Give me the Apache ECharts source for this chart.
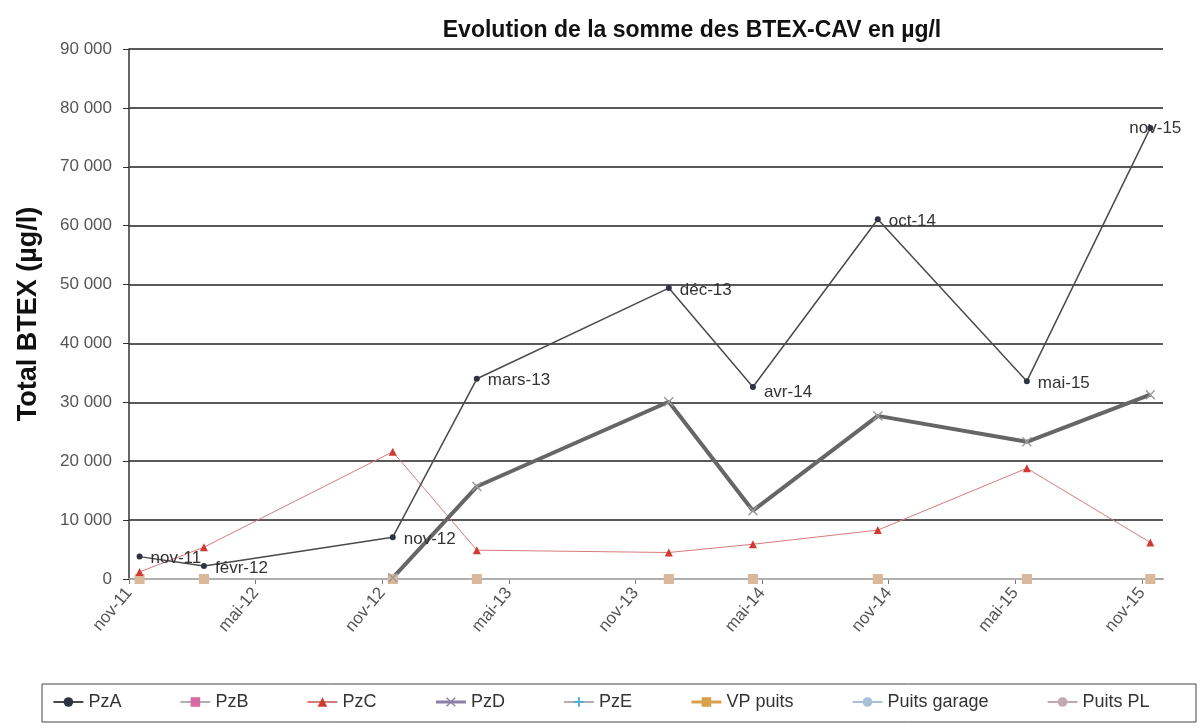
<!DOCTYPE html>
<html>
<head>
<meta charset="utf-8">
<title>BTEX</title>
<script src="https://cdn.jsdelivr.net/npm/echarts@6/dist/echarts.min.js"></script>
<style>
  html, body { margin: 0; padding: 0; background: #fff; }
  #echart { width: 1202px; height: 728px; }
</style>
</head>
<body>
<div id="echart"></div>
<script>
// dates des campagnes
var dates = ['2011-11-16', '2012-02-17', '2012-11-16', '2013-03-16', '2013-12-19',
             '2014-04-18', '2014-10-16', '2015-05-18', '2015-11-13'];
var pzaLabels = ['nov-11', 'févr-12', 'nov-12', 'mars-13', 'déc-13', 'avr-14', 'oct-14', 'mai-15', 'nov-15'];

var pzA = [3800, 2200, 7100, 34000, 49400, 32600, 61100, 33600, 76600];
var pzB = [0, 0, 0, 0, 0, 0, 0, 0, 0];
var pzC = [1200, 5400, 21600, 4900, 4500, 5900, 8300, 18800, 6200];
var pzD = [null, null, 200, 15700, 30100, 11600, 27700, 23300, 31300];
var pzE = [0, 0, 0, 0, 0, 0, 0, 0, 0];
var vpPuits = [0, 0, 0, 0, 0, 0, 0, 0, 0];
var puitsGarage = [0, 0, 0, 0, 0, 0, 0, 0, 0];
var puitsPL = [0, 0, 0, 0, 0, 0, 0, 0, 0];

var yTicks = [0, 10000, 20000, 30000, 40000, 50000, 60000, 70000, 80000, 90000];
var moisFr = ['janv', 'févr', 'mars', 'avr', 'mai', 'juin', 'juil', 'août', 'sept', 'oct', 'nov', 'déc'];

// axe des x en mois depuis nov-11
function toMonths(s) {
    var p = s.split('-');
    var y = +p[0], m = +p[1], d = +p[2];
    var nbJours = new Date(y, m, 0).getDate();
    return (y - 2011) * 12 + (m - 11) + (d - 1) / nbJours;
}
function pairs(values) {
    return values.map(function (v, i) { return [toMonths(dates[i]), v]; });
}
function monthLabel(v) {
    if (v % 6 !== 0) return '';
    var d = new Date(2011, 10 + v, 1);
    return moisFr[d.getMonth()] + '-' + String(d.getFullYear()).slice(2);
}

var crossPath = 'path://M0,1L1,0L5,4L9,0L10,1L6,5L10,9L9,10L5,6L1,10L0,9L4,5Z';
var starPath = 'path://M4,0L6,0L6,4L10,4L10,6L6,6L6,10L4,10L4,6L0,6L0,4L4,4Z';

var myChart = echarts.init(document.getElementById('echart'));
myChart.setOption({
    animation: false,
    textStyle: { fontFamily: 'Liberation Sans, Arial, sans-serif' },
    title: {
        text: 'Evolution de la somme des BTEX-CAV en µg/l',
        left: 687,
        top: 14,
        textAlign: 'center',
        textStyle: { fontSize: 23, fontWeight: 'bold', color: '#111' }
    },
    grid: { left: 129, right: 39, top: 49, bottom: 149 },
    legend: {
        bottom: 12,
        left: 'center',
        itemWidth: 30,
        itemHeight: 12,
        itemGap: 58,
        textStyle: { fontSize: 18, color: '#333' },
        data: [
            { name: 'PzA' },
            { name: 'PzB' },
            { name: 'PzC' },
            { name: 'PzD', itemStyle: { color: '#8a7fa6' }, lineStyle: { color: '#8a7fa6', width: 3 } },
            { name: 'PzE' },
            { name: 'VP puits', itemStyle: { color: '#d9a24a' }, lineStyle: { color: '#d9a24a', width: 3 } },
            { name: 'Puits garage' },
            { name: 'Puits PL' }
        ]
    },
    graphic: [{
        type: 'rect',
        shape: { x: 42, y: 684, width: 1154, height: 38 },
        style: { fill: 'none', stroke: '#444', lineWidth: 1 }
    }],
    xAxis: {
        type: 'value',
        min: 0,
        max: 49,
        interval: 6,
        axisLine: { lineStyle: { color: '#a8a8a8', width: 2 } },
        axisTick: { show: true, length: 5, lineStyle: { color: '#777' } },
        axisLabel: {
            rotate: 50,
            margin: 11,
            fontSize: 17,
            color: '#555',
            showMaxLabel: false,
            formatter: monthLabel
        },
        splitLine: { show: false }
    },
    yAxis: {
        type: 'value',
        min: yTicks[0],
        max: yTicks[yTicks.length - 1],
        interval: 10000,
        name: 'Total BTEX (µg/l)',
        nameLocation: 'middle',
        nameGap: 87,
        nameTextStyle: { fontSize: 27, fontWeight: 'bold', color: '#111' },
        axisLine: { show: true, lineStyle: { color: '#333', width: 1.5 } },
        axisTick: { show: true, length: 6, lineStyle: { color: '#333' } },
        axisLabel: {
            fontSize: 17,
            color: '#555',
            margin: 17,
            formatter: function (v) {
                return String(v).replace(/\B(?=(\d{3})+(?!\d))/g, ' ');
            }
        },
        splitLine: { lineStyle: { color: '#222', width: 1.5 } }
    },
    series: [
        {
            name: 'Puits garage', type: 'line', data: pairs(puitsGarage),
            symbol: 'none', color: '#a9bfd6', lineStyle: { width: 2 }
        },
        {
            name: 'Puits PL', type: 'line', data: pairs(puitsPL),
            symbol: 'none', color: '#c4a8b0', lineStyle: { width: 2 }
        },
        {
            name: 'PzE', type: 'line', data: pairs(pzE),
            symbol: starPath, symbolSize: 8, color: '#4fb0d4', lineStyle: { width: 2, color: '#b0b0b0' }
        },
        {
            name: 'PzB', type: 'line', data: pairs(pzB),
            symbol: 'rect', symbolSize: 9, color: '#d86aa6', lineStyle: { width: 2, color: '#b0b0b0' }
        },
        {
            name: 'VP puits', type: 'line', data: pairs(vpPuits),
            symbol: 'rect', symbolSize: 10, color: '#dab89a', lineStyle: { width: 2, color: '#b0b0b0' }
        },
        {
            name: 'PzC', type: 'line', data: pairs(pzC),
            symbol: 'triangle', symbolSize: 8, color: '#cf3b33',
            lineStyle: { width: 1, color: '#d77a7a' }
        },
        {
            name: 'PzD', type: 'line', data: pairs(pzD), connectNulls: false,
            symbol: crossPath, symbolSize: 10, color: '#8a8a8a',
            itemStyle: { color: '#999' },
            lineStyle: { width: 4, color: '#666' }
        },
        {
            name: 'PzA', type: 'line', data: pairs(pzA),
            symbol: 'circle', symbolSize: 6, color: '#2d3340',
            lineStyle: { width: 1.5, color: '#4a4a4a' },
            label: {
                show: true,
                position: 'right',
                distance: 12,
                fontSize: 17,
                color: '#333',
                formatter: function (p) { return pzaLabels[p.dataIndex]; }
            },
            labelLayout: function (p) {
                if (p.dataIndex === pzaLabels.length - 1) {
                    return { x: p.rect.x - 18, y: p.rect.y + p.rect.height / 2, align: 'left', verticalAlign: 'middle' };
                }
                if (p.dataIndex === 5) {
                    return { x: p.rect.x + 14, y: p.rect.y + p.rect.height / 2 + 5, align: 'left', verticalAlign: 'middle' };
                }
                return { x: p.rect.x + 14, y: p.rect.y + p.rect.height / 2 + 2, align: 'left', verticalAlign: 'middle' };
            }
        }
    ]
});
</script>
</body>
</html>
